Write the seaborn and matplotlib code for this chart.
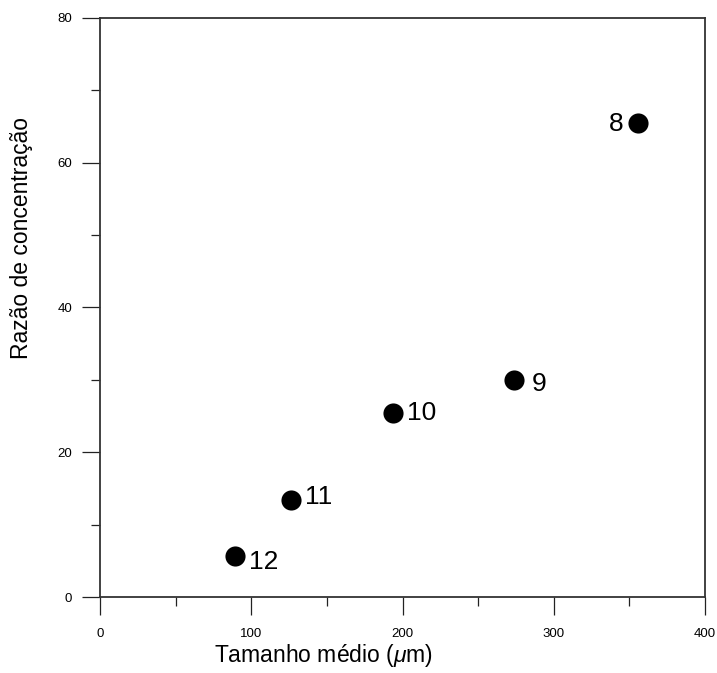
import matplotlib
matplotlib.use("Agg")
import matplotlib.pyplot as plt
import seaborn as sns
import pandas as pd
from matplotlib.ticker import MultipleLocator

sizes = [356.0, 273.5, 193.5, 126.5, 89.5]
ratios = [65.5, 30.0, 25.4, 13.4, 5.6]
labels = ["8", "9", "10", "11", "12"]

sns.set_style("ticks")
plt.rcParams['font.family'] = ['Liberation Sans', 'DejaVu Sans']
plt.rcParams['mathtext.fontset'] = 'custom'
plt.rcParams['mathtext.it'] = 'Liberation Sans:italic'
plt.rcParams['mathtext.rm'] = 'Liberation Sans'
plt.rcParams['text.color'] = 'black'
plt.rcParams['axes.labelcolor'] = 'black'
plt.rcParams['xtick.color'] = 'black'
plt.rcParams['ytick.color'] = 'black'

df = pd.DataFrame({"x": sizes, "y": ratios, "lab": labels})

fig = plt.figure(figsize=(7.17, 6.73), dpi=100)
ax = fig.add_axes([0.1395, 0.1129, 0.8438, 0.8604])

sns.scatterplot(data=df, x="x", y="y", ax=ax, color="black", s=210,
                edgecolor="black", linewidth=0, legend=False, zorder=3)

offsets = {"8": (-11, -1, "right"), "9": (13, -3, "left"), "10": (10, 0, "left"),
           "11": (10, 2, "left"), "12": (10, -4, "left")}
for xv, yv, lab in zip(sizes, ratios, labels):
    dx, dy, ha = offsets[lab]
    ax.annotate(lab, (xv, yv), xytext=(dx, dy), textcoords="offset points",
                ha=ha, va="center", fontsize=19, color="black")

ax.set_xlim(0, 400)
ax.set_ylim(0, 80)
ax.xaxis.set_major_locator(MultipleLocator(100))
ax.xaxis.set_minor_locator(MultipleLocator(50))
ax.yaxis.set_major_locator(MultipleLocator(20))
ax.yaxis.set_minor_locator(MultipleLocator(10))
ax.tick_params(which="major", direction="out", length=13, width=0.9, labelsize=9.5, color="#222222")
ax.tick_params(which="minor", direction="out", length=6.5, width=0.9, color="#222222")
ax.tick_params(axis="x", which="major", pad=9)
ax.tick_params(axis="y", which="major", pad=7)
for sp in ax.spines.values():
    sp.set_visible(True)
    sp.set_linewidth(1.3)
    sp.set_color("#333333")

ax.set_xlabel("Tamanho médio ($\\mu$m)", fontsize=16.5)
ax.set_ylabel("Razão de concentração", fontsize=16.5)
ax.xaxis.set_label_coords(0.369, -0.078)
ax.yaxis.set_label_coords(-0.111, 0.62)

fig.savefig("out.png", dpi=100)
